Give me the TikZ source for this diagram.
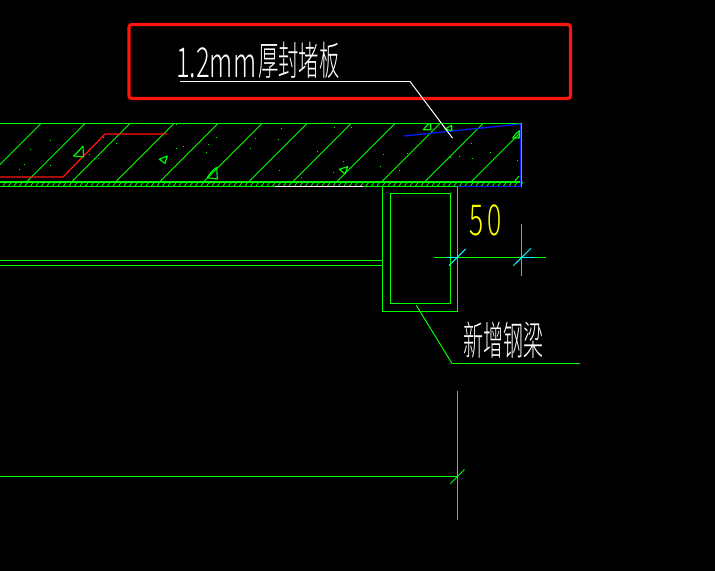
\documentclass[tikz,border=0pt]{standalone}
\usepackage{fontspec}
\newfontfamily\cjk{Noto Sans CJK SC Light}
\definecolor{cadgreen}{RGB}{0,255,0}
\definecolor{cadred}{RGB}{255,20,10}
\definecolor{cadblue}{RGB}{0,30,255}
\definecolor{cadcyan}{RGB}{0,255,255}
\definecolor{cadyellow}{RGB}{255,255,0}
\tikzset{
  gline/.style={draw=cadgreen,line width=.95pt},
  thinline/.style={draw=cadgreen,line width=.75pt},
  tri/.style={draw=cadgreen,line width=.85pt,line join=round},
  label/.style={text=white,inner sep=0pt,anchor=base west},
}
\begin{document}
\begin{tikzpicture}[x=.75pt,y=-.75pt]
\fill[black] (0,0) rectangle (715,571);
\useasboundingbox (0,0) rectangle (715,571);

\draw[draw=cadred,line width=2.4pt,rounded corners=2pt] (129,24.5) rectangle (570.5,98.5);

\foreach \x in {41,85,130,174,218,262,307,351,395,440,483}
  \draw[thinline] (\x,123.5) -- (\x-58,181.5);
\draw[thinline] (520,133) -- (471,182);
\draw[thinline] (519,176) -- (514,182);

\foreach \x in {3,8.5,...,520}
  \draw[draw=cadgreen,line width=.6pt] (\x,186) -- (\x+3,182);

\draw[gline] (0,123.5) -- (521.5,123.5) -- (521.5,186.5) -- (0,186.5);
\draw[gline] (0,182) -- (521.5,182);
\draw[draw=white,line width=.95pt] (275,186.5) -- (363,186.5);
\draw[draw=cadblue,line width=.95pt] (395,186.5) -- (520.5,186.5) -- (520.5,124);
\draw[draw=cadblue,line width=.95pt] (404,136) -- (520.5,124);

\draw[draw=cadred,line width=.95pt] (0,177) -- (63,177) -- (105,134) -- (167,134);

\draw[tri] (73.5,156) .. controls (77,153) and (80,150) .. (83,146) -- (83.5,157) -- cycle;
\draw[tri] (159.3,159.3) -- (167.3,156) -- (165,163.3) -- cycle;
\draw[tri] (207.3,177.7) .. controls (210,173) and (213,170) .. (216.7,167.3) -- (217.3,179) -- cycle;
\draw[tri] (339.3,169.3) -- (347.7,166.7) -- (345,174) -- cycle;
\draw[tri] (423.3,129.7) -- (428.3,124) -- (430.7,124) -- (430.7,129.7) -- cycle;
\draw[tri] (445,129) -- (451.7,125.3) -- (451.7,130.7) -- cycle;
\draw[tri] (512.7,138) .. controls (515,135) and (517,132) .. (519.3,130.7) -- (519.3,138) -- cycle;

\foreach \x/\y in {50.7/140.3,30.3/149.3,24.3/164.3,19.3/169.3,50.7/165.3,89.3/154.3,98.3/158.3,116.3/143.3,103.3/137.3,176.7/148.3,183.3/146.3,206/152.3,208.3/144.3,216.3/137.3,250.3/148.3,255.7/138.3,176/124.8,281.3/128.3,278.3/139.3,279.3/170.3,301.3/177.3,317.3/151.3,343.3/161.3,333.3/172.3,334.3/127.3,351.3/127.3,383.3/154.3,380.3/166.3,399.3/170.3,407.3/153.3,459.3/156.3,471.3/143.3,472.3/158.3,490.3/152.3,517.3/160.3,450/157.3}
  \fill[cadgreen] (\x-.5,\y-.5) rectangle (\x+.5,\y+.5);

\draw[gline] (382.5,186.5) rectangle (457.5,311.5);
\draw[gline] (390.5,193.5) rectangle (450.5,303.5);
\draw[gline] (0,260.5) -- (382.5,260.5);
\draw[gline] (0,265.5) -- (382.5,265.5);

\draw[gline] (433.5,257.5) -- (545.5,257.5);
\draw[gline] (521.5,224) -- (521.5,275.5);
\draw[draw=cadcyan,line width=.95pt] (446,257.5) -- (457.5,257.5);
\draw[draw=cadcyan,line width=.95pt] (521.5,257.5) -- (533.5,257.5);
\draw[draw=cadcyan,line width=.75pt] (449,265.7) -- (465.7,249);
\draw[draw=cadcyan,line width=.75pt] (513.3,265.7) -- (531,248.3);

\draw[gline] (0,476.5) -- (457.5,476.5);
\draw[gline] (457.5,391) -- (457.5,520);
\draw[thinline] (450.5,483.5) -- (464.5,469.5);

\node[text=cadyellow,inner sep=0pt,anchor=base west,xscale=.62] (dimtext) at (469,235)
  {\fontsize{32}{32}\cjk 5\kern5pt 0};

\node[label,xscale=.62] (platetext) at (176,77) {\fontsize{31}{31}\cjk 1.2mm};
\node[label,xscale=.51] (platecjk) at (258,75) {\fontsize{30}{30}\cjk 厚封堵板};
\node[label,xscale=.5] (beamtext) at (463,355.5) {\fontsize{30}{30}\cjk 新增钢梁};

\coordinate (plateend) at (180,81.5);
\coordinate (platebend) at (410,81.5);
\coordinate (platetip) at (452.5,138);
\draw[draw=white,line width=.95pt] (plateend) -- (platebend);
\draw[draw=white,line width=.75pt] (platebend) -- (platetip);

\coordinate (beamtip) at (416.3,305.3);
\coordinate (beambend) at (452,363.5);
\coordinate (beamend) at (580,363.5);
\draw[thinline] (beamtip) -- (beambend);
\draw[gline] (beambend) -- (beamend);
\end{tikzpicture}
\end{document}
